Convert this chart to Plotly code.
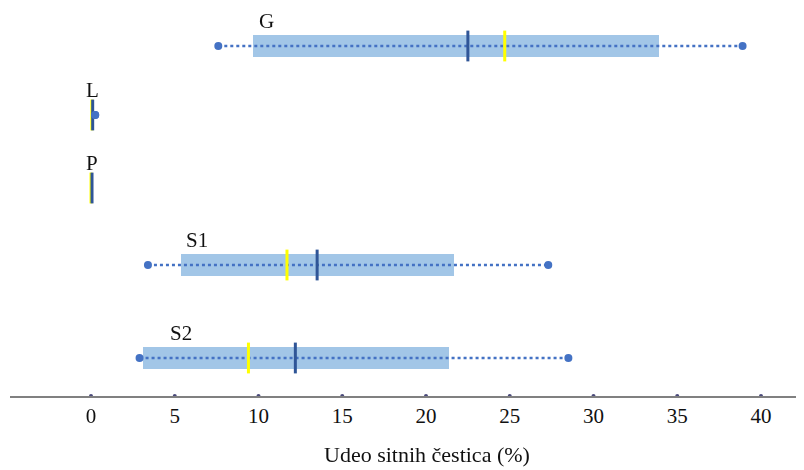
import plotly.graph_objects as go

categories = ["G", "L", "P", "S1", "S2"]
minimum = [7.6, 0.25, 0.03, 3.4, 2.9]
q1 = [9.7, 0.05, 0.0, 5.4, 3.1]
q3 = [33.9, 0.15, 0.1, 21.7, 21.4]
maximum = [38.9, 0.25, 0.1, 27.3, 28.5]
median = [22.5, 0.1, 0.06, 13.5, 12.2]
mean = [24.7, 0.05, 0.0, 11.7, 9.4]
tick_vals = [0, 5, 10, 15, 20, 25, 30, 35, 40]
x_title = "Udeo sitnih čestica (%)"

# layout: vertical row centres (screen-pixel-like units, top = 0)
row_pos = [46, 115, 188, 265, 358]
AXIS_Y = 396
PAGE_OFF = 8  # default body margin of the html page
PX_PER_UNIT = 16.75
ZERO_PX = 91

BOX = "#9DC3E6"
LINE = "#4472C4"
DARK = "#2F5597"
YEL = "#FFFF00"
FONT = "Liberation Serif"

fig = go.Figure()

# boxes (IQR) as horizontal bars
fig.add_trace(go.Bar(
    y=row_pos, x=[b - a for a, b in zip(q1, q3)], base=q1,
    orientation="h", width=22, marker=dict(color=BOX, line=dict(width=0)),
    opacity=0.95, hoverinfo="skip", showlegend=False,
))

for i, c in enumerate(categories):
    y = row_pos[i]
    if maximum[i] - minimum[i] > 0.5:
        fig.add_trace(go.Scatter(
            x=[minimum[i], maximum[i]], y=[y, y], mode="lines",
            line=dict(color=LINE, width=2.5, dash="dot"),
            showlegend=False, hoverinfo="skip",
        ))
    fig.add_trace(go.Scatter(
        x=[mean[i]], y=[y], mode="markers",
        marker=dict(symbol="line-ns", size=22, line=dict(color=YEL, width=3)),
        showlegend=False,
    ))
    fig.add_trace(go.Scatter(
        x=[median[i]], y=[y], mode="markers",
        marker=dict(symbol="line-ns", size=22, line=dict(color=DARK, width=3)),
        showlegend=False,
    ))
    if c != "P":
        fig.add_trace(go.Scatter(
            x=[minimum[i], maximum[i]], y=[y, y], mode="markers",
            marker=dict(color=LINE, size=8),
            showlegend=False,
        ))

label_x = [10.5, 0.1, 0.05, 6.3, 5.4]
for i, c in enumerate(categories):
    fig.add_annotation(x=label_x[i], y=row_pos[i] - 25, text=c, showarrow=False,
                       font=dict(family=FONT, size=21, color="#111111"),
                       xanchor="center", yanchor="middle")

# small tick dots on axis
fig.add_trace(go.Scatter(
    x=tick_vals, y=[AXIS_Y] * len(tick_vals), mode="markers",
    marker=dict(color="#4A4A7A", size=4), cliponaxis=False,
    showlegend=False, hoverinfo="skip",
))

W, H = 804 - PAGE_OFF, 470 - PAGE_OFF
plot_h = AXIS_Y - PAGE_OFF

# axis title (placed in paper coords below the axis)
fig.add_annotation(x=(427 - ZERO_PX) / PX_PER_UNIT, xref="x",
                   y=-(455 - AXIS_Y) / plot_h, yref="paper",
                   text=x_title, showarrow=False,
                   font=dict(family=FONT, size=22, color="#111111"),
                   xanchor="center", yanchor="middle")

fig.update_layout(
    width=W, height=H,
    margin=dict(l=10 - PAGE_OFF, r=0, t=0, b=H - plot_h, autoexpand=False),
    plot_bgcolor="white", paper_bgcolor="white",
    bargap=0,
    xaxis=dict(
        range=[(10 - ZERO_PX) / PX_PER_UNIT, (W + PAGE_OFF - ZERO_PX) / PX_PER_UNIT],
        tickvals=tick_vals, ticktext=[str(v) for v in tick_vals],
        showgrid=False, zeroline=False, automargin=False,
        showline=True, linecolor="#808080", linewidth=2,
        ticks="",
        tickfont=dict(family=FONT, size=21, color="#111111"),
    ),
    yaxis=dict(range=[AXIS_Y, PAGE_OFF], showgrid=False, zeroline=False, automargin=False,
               showticklabels=False, showline=False),
)

fig.write_html("out.html")
